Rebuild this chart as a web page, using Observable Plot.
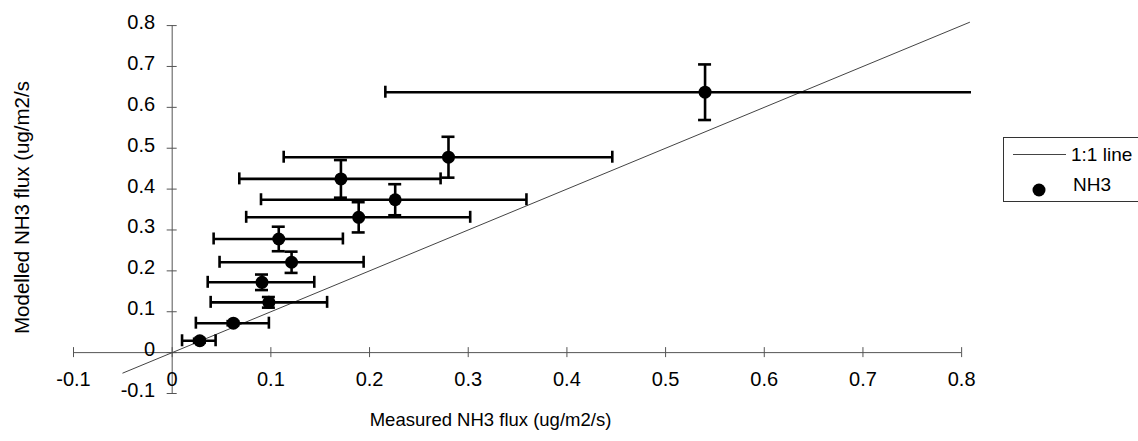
<!DOCTYPE html>
<html>
<head>
<meta charset="utf-8">
<script src="https://cdn.jsdelivr.net/npm/d3@7"></script>
<script src="https://cdn.jsdelivr.net/npm/@observablehq/plot@0.6"></script>
<style>
  html, body { margin: 0; padding: 0; background: #fff; overflow: hidden; }
  #chart { position: relative; width: 1138px; height: 441px; }
  .legend { position: absolute; left: 1003px; top: 137px; width: 150px; height: 65px;
            border: 1px solid #333; box-sizing: border-box; background: #fff; }
  .legend svg { display: block; }
</style>
</head>
<body>
<div id="chart"></div>
<script>
// Measured vs modelled NH3 flux (ug/m2/s), with error ranges on both
const measured     = [0.028, 0.062, 0.098, 0.091, 0.121, 0.108, 0.189, 0.171, 0.226, 0.280, 0.540];
const modelled     = [0.029, 0.072, 0.123, 0.172, 0.221, 0.278, 0.331, 0.425, 0.374, 0.478, 0.637];
const measuredLow  = [0.010, 0.024, 0.039, 0.036, 0.048, 0.042, 0.075, 0.068, 0.090, 0.113, 0.216];
const measuredHigh = [0.044, 0.098, 0.157, 0.144, 0.194, 0.173, 0.302, 0.272, 0.359, 0.446, 0.860];
const modelledErr  = [0.005, 0.005, 0.013, 0.019, 0.026, 0.030, 0.037, 0.046, 0.038, 0.050, 0.068];

// 1:1 reference line extent
const oneToOne = [-0.05, 0.808];

// Axis ticks and labels
const xTicks = [-0.1, 0, 0.1, 0.2, 0.3, 0.4, 0.5, 0.6, 0.7, 0.8];
const yTicks = [-0.1, 0, 0.1, 0.2, 0.3, 0.4, 0.5, 0.6, 0.7, 0.8];
const xTickLabels = ["-0.1", "0", "0.1", "0.2", "0.3", "0.4", "0.5", "0.6", "0.7", "0.8"];
const yTickLabels = ["-0.1", "0", "0.1", "0.2", "0.3", "0.4", "0.5", "0.6", "0.7", "0.8"];

const xTitle = "Measured NH3 flux (ug/m2/s)";
const yTitle = "Modelled NH3 flux (ug/m2/s";

const rows = measured.map((x, i) => ({
  x, y: modelled[i],
  xlo: measuredLow[i], xhi: measuredHigh[i],
  ylo: modelled[i] - modelledErr[i], yhi: modelled[i] + modelledErr[i]
}));

const W = 1138, H = 441;
const mL = 73, mR = 167, mT = 21, mB = 48;
const xDomain = [-0.1, 0.81], yDomain = [-0.1, 0.81];
// pixels per data unit, used to size ticks and error-bar caps in pixels
const kx = (W - mL - mR) / (xDomain[1] - xDomain[0]);
const ky = (H - mT - mB) / (yDomain[1] - yDomain[0]);
const tickX = 5 / ky;   // half-length of x-axis ticks (vertical)
const tickY = 5 / kx;   // half-length of y-axis ticks (horizontal)
const capH = 6 / ky;    // half-height of caps on horizontal bars
const capW = 6.5 / kx;  // half-width of caps on vertical bars

const font = "'Liberation Sans', Arial, Helvetica, sans-serif";
const axisColor = "#555";

const chart = Plot.plot({
  width: W, height: H,
  marginLeft: mL, marginRight: mR, marginTop: mT, marginBottom: mB,
  x: { domain: xDomain, axis: null },
  y: { domain: yDomain, axis: null },
  style: { fontFamily: font, fontSize: "20px", color: "#000", background: "#fff" },
  marks: [
    // axes crossing at the origin
    Plot.ruleY([0], { x1: xTicks[0], x2: xTicks[xTicks.length - 1], stroke: axisColor, strokeWidth: 1 }),
    Plot.ruleX([0], { y1: yTicks[0], y2: yTicks[yTicks.length - 1], stroke: axisColor, strokeWidth: 1 }),
    Plot.ruleX(xTicks, { x: d => d, y1: -tickX, y2: tickX, stroke: axisColor, strokeWidth: 1 }),
    Plot.ruleY(yTicks, { y: d => d, x1: -tickY, x2: tickY, stroke: axisColor, strokeWidth: 1 }),
    Plot.text(xTicks, { x: d => d, y: 0, dy: 27, text: (d, i) => xTickLabels[i], fontSize: 20, fill: "#000" }),
    Plot.text(yTicks, { x: 0, y: d => d, dx: -17, dy: -3, textAnchor: "end", text: (d, i) => yTickLabels[i], fontSize: 20, fill: "#000" }),

    // 1:1 line
    Plot.line(oneToOne, { x: d => d, y: d => d, stroke: "#444", strokeWidth: 1, clip: true }),

    // horizontal error bars (measured range) with caps
    Plot.ruleY(rows, { y: "y", x1: "xlo", x2: "xhi", stroke: "#000", strokeWidth: 2.6, clip: true }),
    Plot.ruleX(rows, { x: "xlo", y1: d => d.y - capH, y2: d => d.y + capH, stroke: "#000", strokeWidth: 2.6, clip: true }),
    Plot.ruleX(rows, { x: "xhi", y1: d => d.y - capH, y2: d => d.y + capH, stroke: "#000", strokeWidth: 2.6, clip: true }),

    // vertical error bars (modelled range) with caps
    Plot.ruleX(rows, { x: "x", y1: "ylo", y2: "yhi", stroke: "#000", strokeWidth: 2.6 }),
    Plot.ruleY(rows, { y: "ylo", x1: d => d.x - capW, x2: d => d.x + capW, stroke: "#000", strokeWidth: 2.6 }),
    Plot.ruleY(rows, { y: "yhi", x1: d => d.x - capW, x2: d => d.x + capW, stroke: "#000", strokeWidth: 2.6 }),

    // points
    Plot.dot(rows, { x: "x", y: "y", r: 6.5, fill: "#000", stroke: "none" }),

    // axis titles
    Plot.text([xTitle], { frameAnchor: "bottom", dx: -32, dy: 27, lineAnchor: "middle", text: d => d, fontSize: 18.5, fill: "#000" }),
    Plot.text([yTitle], { frameAnchor: "left", dx: -51, rotate: -90, textAnchor: "middle", lineAnchor: "middle", text: d => d, fontSize: 20.5, fill: "#000" })
  ]
});

const host = document.getElementById("chart");
host.appendChild(chart);

// legend box to the right of the plot
const legend = document.createElement("div");
legend.className = "legend";
legend.innerHTML = `
<svg width="150" height="63" style="font-family:${font.replace(/"/g, "'")};font-size:19px">
  <line x1="9" x2="62" y1="16.5" y2="16.5" stroke="#444" stroke-width="1"/>
  <text x="67" y="16.5" dominant-baseline="central" fill="#000">1:1 line</text>
  <circle cx="35" cy="52" r="6.5" fill="#000"/>
  <text x="69" y="46" dominant-baseline="central" fill="#000">NH3</text>
</svg>`;
host.appendChild(legend);
</script>
</body>
</html>
